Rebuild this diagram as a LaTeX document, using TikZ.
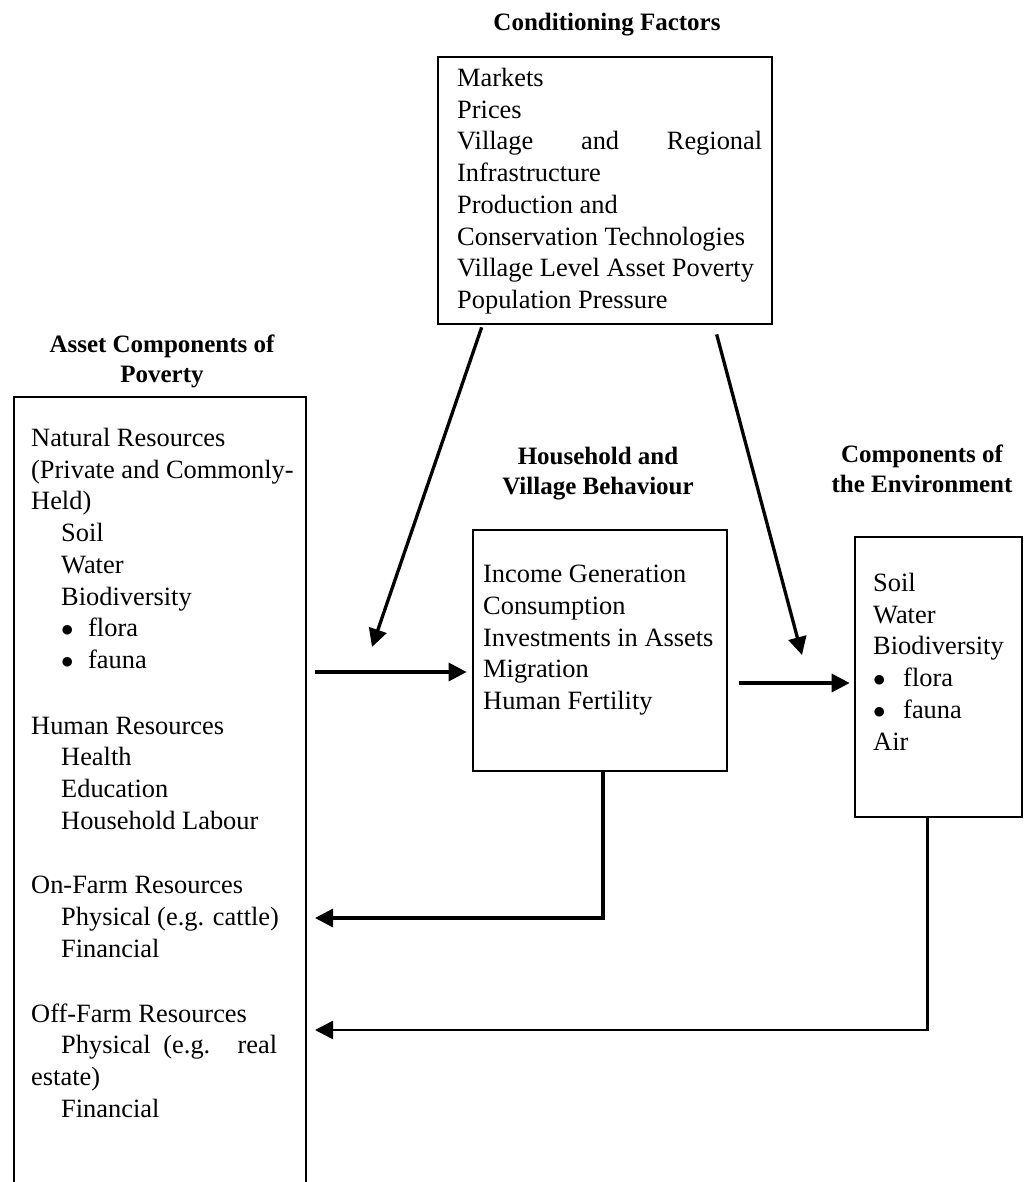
\documentclass[tikz,border=0pt]{standalone}
\usepackage{fontspec}
\setmainfont{Liberation Serif}
\usetikzlibrary{calc,positioning,arrows.meta}

\newcommand{\indsp}{\hspace*{30pt}}
\newcommand{\bitem}[2]{\makebox[#1][l]{$\bullet$}#2}

\begin{document}
\begin{tikzpicture}[x=1pt,y=-1pt,
  box/.style={draw,line width=2.7pt,inner sep=0pt},
  txt/.style={anchor=north west,align=left,inner sep=0pt,font=\fontsize{26.4}{31.7}\selectfont},
  ttl/.style={anchor=north,align=center,inner sep=0pt,font=\fontsize{25}{30}\selectfont\bfseries},
  arr/.style={line width=3.3pt,-{Triangle[length=18pt,width=18pt]}}]
\useasboundingbox (0,0) rectangle (1030,1182);
\clip (0,0) rectangle (1030,1182);
% boxes
\node [box,minimum width=334pt,minimum height=267pt] (cond) at (605,190.5) {};
\node [box,line width=2.2pt,minimum width=292pt,minimum height=803pt] (asset) at (160,798.5) {};
\node [box,minimum width=254pt,minimum height=241pt] (house) at (600,650.5) {};
\node [box,minimum width=167pt,minimum height=280pt] (env) at (938.5,677) {};
% titles
\node [ttl] (condT) at (607,13) {Conditioning Factors};
\node [ttl] (assetT) at (162,335) {Asset Components of\\Poverty};
\node [ttl] (houseT) at (598,447) {Household and\\Village Behaviour};
\node [ttl] (envT) at (922,445) {Components of\\the Environment};
% box texts
\node [txt] (condL) at (457,68) {Markets\\Prices\\\makebox[305pt][s]{Village and Regional}\\Infrastructure\\Production and\\Conservation Technologies\\Village Level Asset Poverty\\Population Pressure};
\node [txt] (assetL) at (31,428) {Natural Resources\\(Private and Commonly-\\Held)\\\indsp Soil\\\indsp Water\\\indsp Biodiversity\\\indsp\bitem{27pt}{flora}\\\indsp\bitem{27pt}{fauna}\\[34pt]
  Human Resources\\\indsp Health\\\indsp Education\\\indsp Household Labour\\[33pt]
  On-Farm Resources\\\indsp Physical (e.g. cattle)\\\indsp Financial\\[33pt]
  Off-Farm Resources\\\indsp\makebox[216pt][s]{Physical (e.g. real}\\estate)\\\indsp Financial};
\node [txt] (houseL) at (483,565) {Income Generation\\Consumption\\Investments in Assets\\Migration\\Human Fertility};
\node [txt] (envL) at (873,573) {Soil\\Water\\Biodiversity\\\bitem{30pt}{flora}\\\bitem{30pt}{fauna}\\Air};
% connectors
\coordinate (in1) at (372,647);
\coordinate (in2) at (802,655);
\coordinate (out1) at (315,672);
\coordinate (out2) at (739,683);
\coordinate (back1) at (315,918);
\coordinate (back2) at (315,1030);
\draw [arr] ($(cond.south west)+(45,2)$) -- (in1);
\draw [arr] ($(cond.south west)+(280,9)$) -- (in2);
\draw [arr,shorten >=5pt] (out1) -- (out1 -| house.west);
\draw [arr,shorten >=4pt] (out2) -- (out2 -| env.west);
\draw [arr] ($(house.south)+(3,0)$) |- (back1);
\draw [arr,line width=2.6pt] ($(env.south)+(-11,0)$) |- (back2);
\end{tikzpicture}
\end{document}
